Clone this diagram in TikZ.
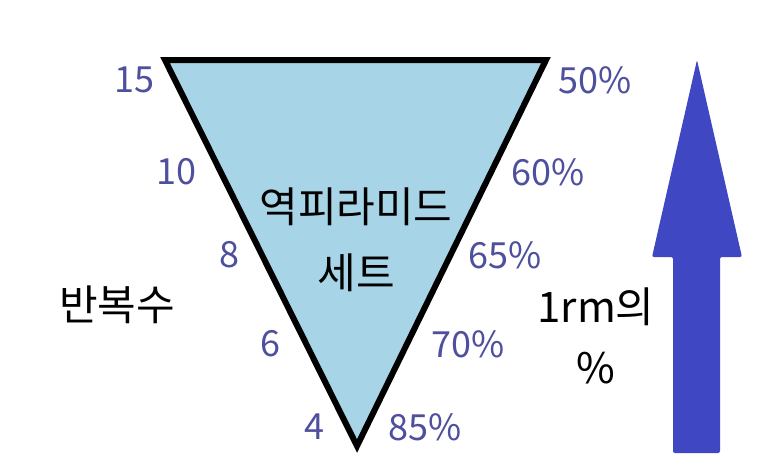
\documentclass[tikz,border=0pt]{standalone}
\usepackage{fontspec}
\setmainfont{Noto Sans CJK KR}
\usepackage{xcolor}
\usetikzlibrary{positioning}
\definecolor{numblue}{HTML}{4E509E}
\definecolor{arrowblue}{HTML}{3F47C2}
\definecolor{pyramidfill}{HTML}{A7D5E7}

\begin{document}
\begin{tikzpicture}[
    x=1pt, y=-1pt,
    num/.style={text=numblue, font=\fontsize{36}{38}\selectfont, inner sep=0pt},
    word/.style={text=black, font=\fontsize{42}{44}\selectfont, inner sep=0pt},
    pyramid/.style={draw=black, fill=pyramidfill, line width=6pt, line join=miter}
]
\useasboundingbox (0,0) rectangle (773,471);

% Inverted pyramid
\coordinate (topleft) at (165,60);
\coordinate (topright) at (546,60);
\coordinate (apex) at (357,446);
\draw[pyramid] (topleft) -- (topright) -- (apex) -- cycle;

% Title inside
\node[word] (title) at (356,207) {역피라미드};
\node[word, below=27pt of title] (set) {세트};

% Reps (left side)
\node[num] (r15) at (134,80) {15};
\node[num] (r10) at (176,172) {10};
\node[num] (r8) at (229,255) {8};
\node[num] (r6) at (270,344) {6};
\node[num] (r4) at (314,427) {4};

% Percentages (right side)
\node[num] (p50) at (595,80) {50\%};
\node[num] (p60) at (548,172) {60\%};
\node[num] (p65) at (505,255) {65\%};
\node[num] (p70) at (468,344) {70\%};
\node[num] (p85) at (425,427) {85\%};

% Axis labels
\node[word] (reps) at (117,305) {반복수};
\node[word] (orm) at (596,307) {1rm의};
\node[word, below=26pt of orm] (pct) {\%};

% Big arrow
\fill[arrowblue, rounded corners=2pt] (673,453) -- (673,257) -- (652,257) -- (697,60)
  -- (742,257) -- (720,257) -- (720,453) -- cycle;

\end{tikzpicture}
\end{document}
